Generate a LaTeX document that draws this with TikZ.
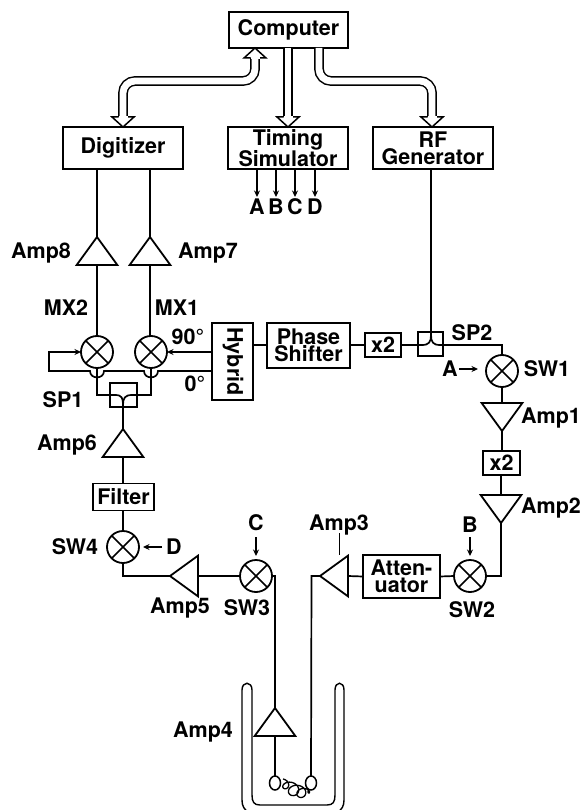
\documentclass[tikz,border=0pt]{standalone}
\usepackage{fontspec}
\setmainfont{TeX Gyre Heros}
\usetikzlibrary{arrows.meta,shapes.geometric}
\tikzset{
  x=1pt,y=-1pt,
  wire/.style={line width=1.7pt},
  sig/.style={wire,-{Stealth[length=6.5pt,width=6pt]}},
  bus/.style={line width=1.5pt,double,double distance=6.8pt,rounded corners=12pt},
  boxn/.style={draw,line width=1.8pt,inner sep=0pt,outer sep=0pt,align=center,font=\labelfont,fill=white},
  mixer/.style={circle,draw,line width=1.8pt,minimum size=32pt,inner sep=0pt,outer sep=0pt,
    path picture={\draw[line width=1.5pt]
      (path picture bounding box.north west)--(path picture bounding box.south east)
      (path picture bounding box.north east)--(path picture bounding box.south west);}},
  ampn/.style={isosceles triangle,isosceles triangle apex angle=72,isosceles triangle stretches=false,
    draw,line width=1.8pt,minimum height=28pt,inner sep=0pt,outer sep=0pt,fill=white},
  lab/.style={font=\labelfont,inner sep=0pt,align=center},
}
\newcommand{\labelfont}{\bfseries\fontsize{21.5}{17}\selectfont}
\begin{document}
\begin{tikzpicture}
\useasboundingbox (0,0) rectangle (582,810);
% boxes
\node[boxn,minimum width=119pt,minimum height=36pt] (computer) at (288.5,30) {Computer};
\node[boxn,minimum width=120pt,minimum height=42pt] (digitizer) at (123,148) {Digitizer};
\node[boxn,minimum width=120pt,minimum height=42pt] (timing) at (288,148) {Timing\\Simulator};
\node[boxn,minimum width=120pt,minimum height=42pt] (rf) at (433,148) {RF\\Generator};
\node[boxn,minimum width=41pt,minimum height=77pt] (hybrid) at (232.5,361.5) {};
\node[lab,rotate=-90] (hybridt) at (233,361.5) {Hybrid};
\node[boxn,minimum width=83pt,minimum height=45pt] (phase) at (308.5,345.5) {Phase\\Shifter};
\node[boxn,minimum width=36pt,minimum height=24pt] (xa) at (383,345) {x2};
\node[boxn,minimum width=37pt,minimum height=24pt] (xb) at (501.5,463) {x2};
\node[boxn,minimum width=61pt,minimum height=27pt] (filter) at (123.5,497) {Filter};
\node[boxn,minimum width=77pt,minimum height=43pt] (atten) at (401.5,576.5) {Atten-\\uator};
\node[draw,line width=1.8pt,minimum width=25pt,minimum height=24pt,inner sep=0pt,outer sep=0pt] (sptwo) at (430.5,344) {};
\node[draw,line width=1.8pt,minimum width=27pt,minimum height=24pt,inner sep=0pt,outer sep=0pt] (spone) at (123.5,395) {};
% mixers
\node[mixer] (mxtwo) at (97,352) {};
\node[mixer] (mxone) at (151,352) {};
\node[mixer] (swone) at (502,371) {};
\node[mixer] (swtwo) at (470,576) {};
\node[mixer] (swthree) at (256,576) {};
\node[mixer] (swfour) at (123,547) {};
% amplifiers
\node[ampn,shape border rotate=90,anchor=apex] (ampeight) at (97,237) {};
\node[ampn,shape border rotate=90,anchor=apex] (ampseven) at (150,237) {};
\node[ampn,shape border rotate=90,anchor=apex] (ampsix) at (123,429) {};
\node[ampn,shape border rotate=-90,anchor=apex] (ampone) at (502,431) {};
\node[ampn,shape border rotate=-90,anchor=apex] (amptwo) at (501,523) {};
\node[ampn,shape border rotate=180,anchor=apex] (ampfive) at (170,576) {};
\node[ampn,shape border rotate=180,anchor=apex] (ampthree) at (320,576) {};
\node[ampn,shape border rotate=90,anchor=apex] (ampfour) at (275,708) {};
% dewar
\draw[line width=1.4pt] (242,690) .. controls (242,681) and (252,681) .. (252,690) -- (252,795)
  .. controls (252,802) and (254,805) .. (260,805) -- (327,805) .. controls (333,805) and (335,802) .. (335,795)
  -- (335,690) .. controls (335,681) and (344,681) .. (344,690) -- (344,800)
  .. controls (344,806) and (342,810) .. (336,813);
\draw[line width=1.4pt] (242,690) -- (242,800) .. controls (242,806) and (244,810) .. (250,813);
% probe
\node[ellipse,draw,line width=1.5pt,minimum width=11pt,minimum height=14pt,inner sep=0pt,outer sep=0pt] (pl) at (275,783) {};
\node[ellipse,draw,line width=1.5pt,minimum width=11pt,minimum height=14pt,inner sep=0pt,outer sep=0pt] (pr) at (311,783) {};
\draw[line width=1.3pt,smooth] plot[domain=0:1,samples=140] ({283+25*\x+7*sin(1260*\x)*(sin(180*\x))^0.5},{779+11*\x+6*(1-cos(1260*\x))*(sin(180*\x))^0.5});
% buses
\coordinate (cl) at (255,48);
\coordinate (cm) at (288,48);
\coordinate (cr) at (319,48);
\coordinate (dt) at (123,127);
\coordinate (tt) at (288,127);
\coordinate (rt) at (432,127);
\draw[bus] (255,58) -- (255,81) -- (123,81) -- (123,117);
\draw[bus] (cm) -- (288,117);
\draw[bus] (cr) -- (319,81) -- (432,81) -- (432,117);
\draw[line width=1.5pt] (250.5,58) -- (244,58) -- (cl) -- (266,58) -- (259.5,58);
\fill[white] (250.5,59.5) rectangle (259.5,57);
\draw[line width=1.5pt] (118.5,117) -- (112,117) -- (dt) -- (134,117) -- (127.5,117);
\fill[white] (118.5,118.5) rectangle (127.5,116);
\draw[line width=1.5pt] (283.5,117) -- (277,117) -- (tt) -- (299,117) -- (292.5,117);
\fill[white] (283.5,118.5) rectangle (292.5,116);
\draw[line width=1.5pt] (427.5,117) -- (421,117) -- (rt) -- (443,117) -- (436.5,117);
\fill[white] (427.5,118.5) rectangle (436.5,116);
% timing outputs
\coordinate (oa) at (257,197);\coordinate (ob) at (276,197);\coordinate (oc) at (295,197);\coordinate (od) at (315,197);
\draw[sig] (257,169) -- (oa);
\draw[sig] (276,169) -- (ob);
\draw[sig] (295,169) -- (oc);
\draw[sig] (315,169) -- (od);
% upper left
\draw[wire] (digitizer.south -| ampeight.apex) -- (ampeight.apex);
\draw[wire] (digitizer.south -| ampseven.apex) -- (ampseven.apex);
\draw[wire] (ampeight.lower side) -- (mxtwo.north -| ampeight.lower side);
\draw[wire] (ampseven.lower side) -- (mxone.north -| ampseven.lower side);
\draw[sig] (hybrid.west |- mxone.east) -- (mxone.east);
\draw[wire,-{Stealth[length=6.5pt,width=6pt]}] (hybrid.west |- 0,371) -- (158,371) .. controls (158,379.5) and (144,379.5) .. (144,371)
  -- (104,371) .. controls (104,379.5) and (90,379.5) .. (90,371) -- (49,371) -- (49,352) -- (mxtwo.west);
\coordinate (jone) at (123,405);
\draw[wire] (mxtwo.south) -- (97,395) -- (115,395) .. controls (122,395) and (123,398) .. (jone);
\draw[wire] (mxone.south) -- (151,395) -- (132,395) .. controls (125,395) and (123,398) .. (jone);
\draw[wire] (jone) -- (ampsix.apex);
\draw[wire] (ampsix.lower side) -- (filter.north -| ampsix.lower side);
\draw[wire] (filter.south -| swfour.north) -- (swfour.north);
\draw[wire] (swfour.south) -- (123,576) -- (ampfive.apex);
\draw[wire] (ampfive.lower side) -- (swthree.west);
\coordinate (ta) at (275,576);
\draw[wire] (swthree.east) -- (ta) -- (ampfour.apex);
\draw[wire] (ampfour.lower side) -- (pl.north);
\draw[wire] (pr.north) -- (311.5,576) -- (ampthree.apex);
\draw[wire] (ampthree.lower side) -- (atten.west);
\draw[wire] (atten.east) -- (swtwo.west);
\draw[wire] (swtwo.east) -- (501,576) -- (amptwo.apex);
\draw[wire] (amptwo.lower side) -- (xb.south -| amptwo.lower side);
\draw[wire] (xb.north -| ampone.apex) -- (ampone.apex);
\draw[wire] (ampone.lower side) -- (swone.south);
% top right chain
\coordinate (jtwo) at (431,335);
\draw[wire] (rf.south -| jtwo) -- (jtwo);
\draw[wire] (xa.east) -- (422,345) .. controls (429,345) and (431,342) .. (jtwo);
\draw[wire] (swone.north) -- (502,345) -- (440,345) .. controls (433,345) and (431,342) .. (jtwo);
\draw[wire] (hybrid.east |- 0,345) -- (phase.west |- 0,345);
\draw[wire] (phase.east |- xa.west) -- (xa.west);
% control arrows
\coordinate (ca) at (478,369);
\coordinate (cb) at (470,556);
\coordinate (cc) at (256,556);
\coordinate (cd) at (143,547);
\draw[sig] (459,369) -- (ca);
\draw[sig] (470,537) -- (cb);
\draw[sig] (256,537) -- (cc);
\draw[sig] (162,547) -- (cd);
\coordinate (tickb) at (339,555);
\draw[line width=1pt] (339,533) -- (tickb);
% labels
\node[lab] (la) at (257,207) {A};
\node[lab] (lb) at (276,207) {B};
\node[lab] (lc) at (295,207) {C};
\node[lab] (ld) at (315,207) {D};
\node[lab] (lamp8) at (41,253) {Amp8};
\node[lab] (lamp7) at (208,253) {Amp7};
\node[lab] (lmx2) at (66,308) {MX2};
\node[lab] (lmx1) at (177,308) {MX1};
\node[lab] (l90) at (188,337) {90°};
\node[lab] (l0) at (195,384) {0°};
\node[lab] (lsp1) at (63,400) {SP1};
\node[lab] (lamp6) at (67,445) {Amp6};
\node[lab] (lsw4) at (75,547) {SW4};
\node[lab] (ld2) at (174,547) {D};
\node[lab] (lc2) at (256,523) {C};
\node[lab] (lsw3) at (247,608) {SW3};
\node[lab] (lamp5) at (180,608) {Amp5};
\node[lab] (lamp4) at (203,732) {Amp4};
\node[lab] (lamp3) at (339,525) {Amp3};
\node[lab] (lb2) at (470,525) {B};
\node[lab] (lsw2) at (472,610) {SW2};
\node[lab] (lamp2) at (551,508) {Amp2};
\node[lab] (lamp1) at (551,418) {Amp1};
\node[lab] (la2) at (450,369) {A};
\node[lab] (lsw1) at (547,369) {SW1};
\node[lab] (lsp2) at (472,333) {SP2};
\end{tikzpicture}
\end{document}
